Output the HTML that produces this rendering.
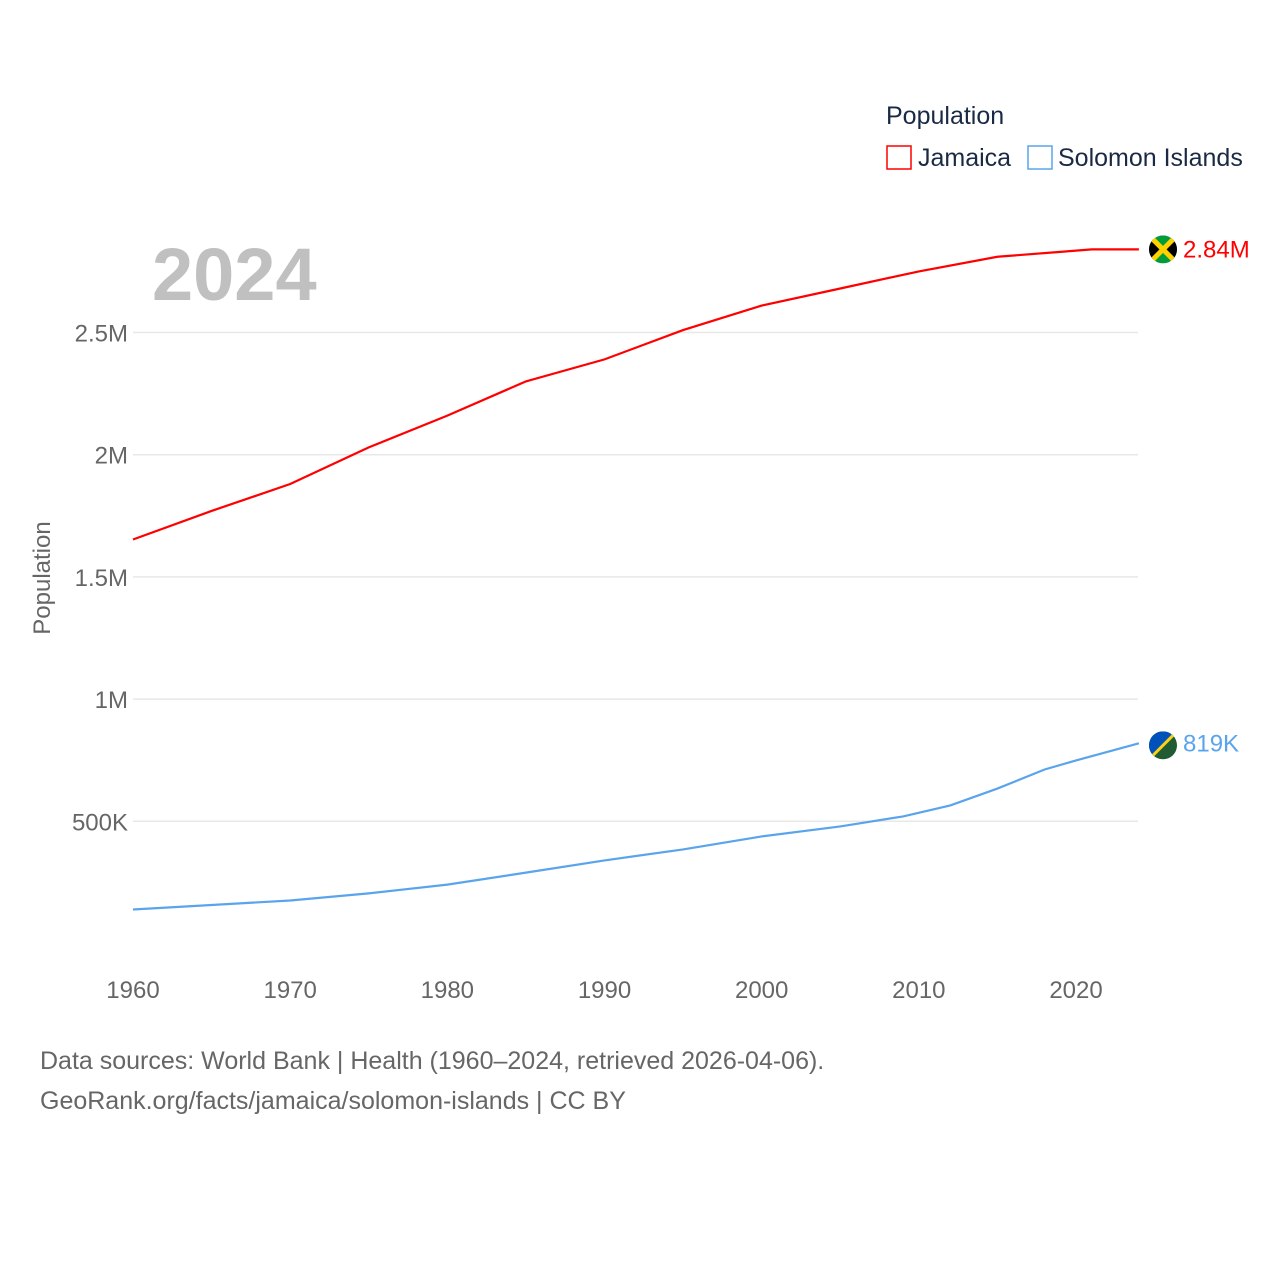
<!DOCTYPE html>
<html><head><meta charset="utf-8"><style>
body{margin:0;background:#fff;font-family:"Liberation Sans",sans-serif}
svg text{font-family:"Liberation Sans",sans-serif}
</style></head><body>
<svg id="chart" width="1280" height="1280" viewBox="0 0 1280 1280">
<text x="886" y="124" font-size="25" fill="#1a2a44">Population</text>
<g><rect x="887" y="146" width="24" height="23" fill="none" stroke="#f00" stroke-width="1.5"/><text x="918" y="166" font-size="25" fill="#1a2a44">Jamaica</text></g>
<g><rect x="1028" y="146" width="24" height="23" fill="none" stroke="#5aa4ec" stroke-width="1.5"/><text x="1058" y="166" font-size="25" fill="#1a2a44">Solomon Islands</text></g>
<text x="152" y="300" font-size="74" font-weight="bold" fill="#c0c0c0">2024</text>
<text transform="translate(50,578) rotate(-90)" text-anchor="middle" font-size="24" fill="#666">Population</text>
<g id="grid"></g><g id="ticks"></g><g id="lines"></g>
<text x="40" y="1069" font-size="25" fill="#666">Data sources: World Bank | Health (1960–2024, retrieved 2026-04-06).</text>
<text x="40" y="1109" font-size="25" fill="#666">GeoRank.org/facts/jamaica/solomon-islands | CC BY</text>
</svg>
<script>
const years=[1960,1965,1970,1975,1980,1985,1990,1995,2000,2005,2010,2015,2019,2021,2024];
const jamaica=[1653000,1770000,1880000,2030000,2160000,2300000,2390000,2510000,2610000,2680000,2750000,2810000,2830000,2840000,2840000];
const solYears=[1960,1970,1975,1980,1985,1990,1995,2000,2005,2009,2012,2015,2018,2020,2024];
const solomon=[139000,176000,205000,241000,290000,340000,385000,438000,479000,520000,565000,634000,712000,749000,819000];
const yTicks=[500000,1000000,1500000,2000000,2500000];
const yTickLabels=["500K","1M","1.5M","2M","2.5M"];
const xTicks=[1960,1970,1980,1990,2000,2010,2020];
const NS="http://www.w3.org/2000/svg";
const x=v=>133+(v-1960)*15.717;
const y=v=>943.5-v/500000*122.2;
function el(t,a,p){const e=document.createElementNS(NS,t);for(const k in a)e.setAttribute(k,a[k]);document.getElementById(p).appendChild(e);return e;}
yTicks.forEach((v,i)=>{
 const g=el('line',{x1:133,x2:1138,y1:y(v),y2:y(v),stroke:'#e8e8e8','stroke-width':1.5},'grid');
 
 
 const t=el('text',{x:128,y:y(v)+9,'text-anchor':'end','font-size':24,fill:'#666'},'ticks');
 t.textContent=yTickLabels[i];
 
 
});
xTicks.forEach(v=>{
 const t=el('text',{x:x(v),y:998,'text-anchor':'middle','font-size':24,fill:'#666'},'ticks');
 t.textContent=v;
 
 
});
const pj=el('path',{d:years.map((v,i)=>(i?'L':'M')+x(v)+','+y(jamaica[i])).join(''),fill:'none',stroke:'#f00','stroke-width':2.2},'lines');


const ps=el('path',{d:solYears.map((v,i)=>(i?'L':'M')+x(v)+','+y(solomon[i])).join(''),fill:'none',stroke:'#5aa4ec','stroke-width':2.2},'lines');


// end markers
const jy=y(jamaica[jamaica.length-1]), sy=y(solomon[solomon.length-1]);
const fj=el('g',{},'lines');


fj.innerHTML=`<clipPath id="cj"><circle cx="1163" cy="${jy}" r="14"/></clipPath><g clip-path="url(#cj)"><rect x="1149" y="${jy-14}" width="28" height="28" fill="#009b3a"/><polygon points="1149,${jy-14} 1163,${jy} 1149,${jy+14}" fill="#000"/><polygon points="1177,${jy-14} 1163,${jy} 1177,${jy+14}" fill="#000"/><line x1="1149" y1="${jy-14}" x2="1177" y2="${jy+14}" stroke="#fed100" stroke-width="5"/><line x1="1149" y1="${jy+14}" x2="1177" y2="${jy-14}" stroke="#fed100" stroke-width="5"/></g>`;
const tj=el('text',{x:1183,y:jy+8,'font-size':24,fill:'#f00'},'lines');tj.textContent='2.84M';


const fs=el('g',{},'lines');


fs.innerHTML=`<clipPath id="cs"><circle cx="1163" cy="${sy+2}" r="14"/></clipPath><g clip-path="url(#cs)"><rect x="1149" y="${sy-12}" width="28" height="28" fill="#215b33"/><polygon points="1149,${sy-12} 1177,${sy-12} 1149,${sy+16}" fill="#0051ba"/><line x1="1149" y1="${sy+16}" x2="1177" y2="${sy-12}" stroke="#fcd116" stroke-width="3"/></g>`;
const ts=el('text',{x:1183,y:sy+8,'font-size':24,fill:'#5aa4ec'},'lines');ts.textContent='819K';


</script>
</body></html>
